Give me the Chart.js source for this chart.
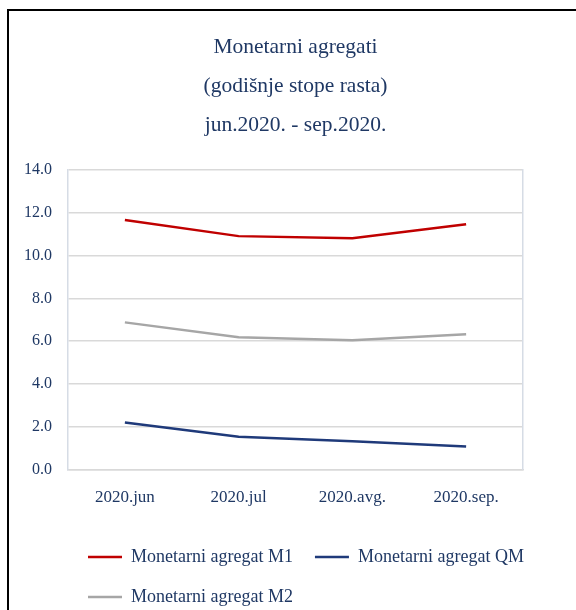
<!DOCTYPE html>
<html>
<head>
<meta charset="utf-8">
<script src="https://cdn.jsdelivr.net/npm/chart.js@4.4.0/dist/chart.umd.min.js"></script>
<style>
    html, body { margin: 0; padding: 0; background: #fff; overflow: hidden; }
    #wrap { position: relative; width: 576px; height: 616px; }
    #frame {
        position: absolute; left: 7px; top: 9px; right: 0; bottom: 0;
        border-left: 2px solid #000; border-top: 2px solid #000;
        pointer-events: none;
    }
</style>
</head>
<body>
<div id="wrap">
    <canvas id="agregati-chart" width="576" height="616"></canvas>
    <div id="frame"></div>
</div>
<script>

const months = ['2020.jun', '2020.jul', '2020.avg.', '2020.sep.'];
const m1Values = [11.66, 10.91, 10.81, 11.47];
const qmValues = [2.2, 1.54, 1.32, 1.08];
const m2Values = [6.88, 6.19, 6.05, 6.32];
const titleLines = ['Monetarni agregati', '(godišnje stope rasta)', 'jun.2020. - sep.2020.'];

const textColor = '#1f3864';
const fontFamily = '"Liberation Serif", "Times New Roman", serif';

// pomjeri legendu da krene od lijeve ivice grafika
const legendShift = {
    id: 'legendShift',
    afterLayout(chart) {
        if (chart.legend) {
            chart.legend.left = chart.chartArea.left - 2;
            chart.legend.right = chart.width;
        }
    }
};

function drawChart() {
    const data = {
        labels: months,
        datasets: [
            {
                label: 'Monetarni agregat M1',
                data: m1Values,
                borderColor: '#c00000',
                backgroundColor: '#c00000',
            },
            {
                label: 'Monetarni agregat QM',
                data: qmValues,
                borderColor: '#1f3a7a',
                backgroundColor: '#1f3a7a',
            },
            {
                label: 'Monetarni agregat M2',
                data: m2Values,
                borderColor: '#a6a6a6',
                backgroundColor: '#a6a6a6',
            }
        ]
    };

    const config = {
        type: 'line',
        data: data,
        options: {
            responsive: false,
            animation: false,
            layout: {
                padding: {left: 8, right: 53, top: 0, bottom: 0}
            },
            elements: {
                line: {borderWidth: 2.5, tension: 0},
                point: {radius: 0, borderWidth: 2.5}
            },
            scales: {
                x: {
                    offset: true,
                    grid: {display: false, drawTicks: false},
                    border: {color: '#d9d9d9', width: 1.5},
                    ticks: {
                        color: textColor,
                        padding: 18,
                        font: {family: fontFamily, size: 17}
                    }
                },
                y: {
                    min: 0,
                    max: 14,
                    ticks: {
                        stepSize: 2,
                        color: textColor,
                        padding: 16,
                        font: {family: fontFamily, size: 16},
                        callback: (v) => Number(v).toFixed(1)
                    },
                    grid: {color: '#d9d9d9', lineWidth: 1.5, drawTicks: false},
                    border: {color: '#d6dce5', width: 1.5}
                },
                y2: {
                    position: 'right',
                    min: 0,
                    max: 14,
                    ticks: {display: false},
                    grid: {drawOnChartArea: false, drawTicks: false},
                    border: {color: '#d6dce5', width: 1.5}
                }
            },
            plugins: {
                title: {
                    display: true,
                    text: titleLines,
                    color: textColor,
                    fullSize: false,
                    font: {family: fontFamily, size: 21.5, weight: 'normal', lineHeight: 39 / 21.5},
                    padding: {top: 28, bottom: 25}
                },
                legend: {
                    display: true,
                    position: 'bottom',
                    align: 'start',
                    labels: {
                        color: textColor,
                        usePointStyle: true,
                        pointStyle: 'line',
                        pointStyleWidth: 34,
                        padding: 22,
                        font: {family: fontFamily, size: 18}
                    }
                },
                tooltip: {enabled: false}
            }
        },
        plugins: [legendShift]
    };

    new Chart('agregati-chart', config);
}

drawChart();
</script>
</body>
</html>
